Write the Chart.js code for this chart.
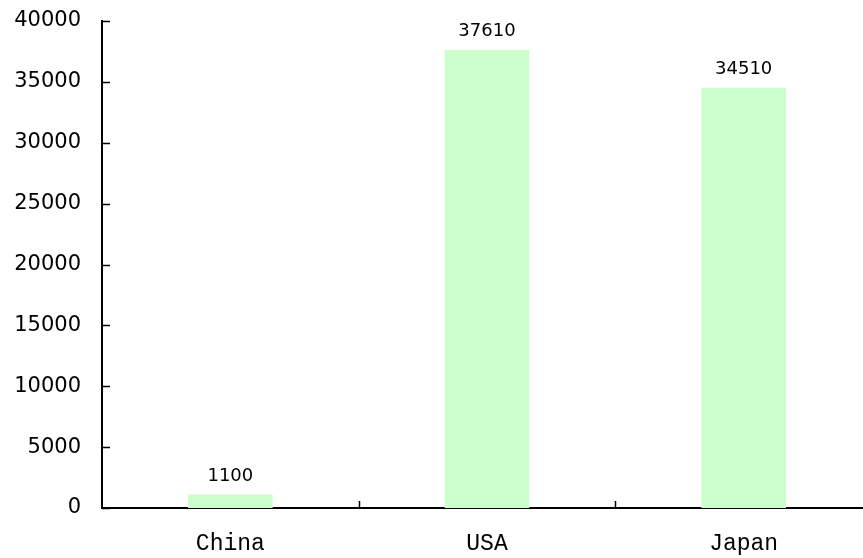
<!DOCTYPE html>
<html>
<head>
<meta charset="utf-8">
<script src="https://cdn.jsdelivr.net/npm/chart.js@4/dist/chart.umd.min.js"></script>
<style>
html,body{margin:0;padding:0;background:#fff;overflow:hidden;}
#wrap{width:872px;height:558px;position:relative;}
</style>
</head>
<body>
<div id="wrap"><canvas id="c"></canvas></div>
<script>
const categories = ["China", "USA", "Japan"];
const values = [1100, 37610, 34510];
const yMin = 0, yMax = 40000, yStep = 5000;

const tickMarks = {
  id: 'tickMarks',
  afterDraw(chart) {
    const ctx = chart.ctx, a = chart.chartArea;
    const xs = chart.scales.x, ys = chart.scales.y;
    ctx.save();
    ctx.strokeStyle = '#000';
    ctx.lineWidth = 1.5;
    ys.ticks.forEach(t => {
      const y = Math.round(ys.getPixelForValue(t.value)) + 0.5;
      ctx.beginPath(); ctx.moveTo(a.left, y); ctx.lineTo(a.left + 8, y); ctx.stroke();
    });
    for (let i = 1; i <= categories.length; i++) {
      const x = Math.round((xs.getPixelForValue(i - 1) + xs.getPixelForValue(i)) / 2) + 0.5;
      ctx.beginPath(); ctx.moveTo(x, a.bottom); ctx.lineTo(x, a.bottom - 7); ctx.stroke();
    }
    ctx.fillStyle = '#000';
    ctx.font = '18px "DejaVu Sans"';
    ctx.textAlign = 'center';
    ctx.textBaseline = 'alphabetic';
    const meta = chart.getDatasetMeta(0);
    meta.data.forEach((bar, i) => {
      ctx.fillText(String(values[i]), bar.x, bar.y - 14);
    });
    ctx.restore();
  }
};

new Chart(document.getElementById('c'), {
  type: 'bar',
  data: {
    labels: categories,
    datasets: [{
      data: values,
      backgroundColor: '#ccffcc',
      borderWidth: 0,
      barPercentage: 0.33,
      categoryPercentage: 1.0
    }]
  },
  options: {
    responsive: true,
    maintainAspectRatio: false,
    animation: false,
    layout: { padding: { top: 21, right: 0, left: 0, bottom: 0 } },
    plugins: { legend: { display: false }, tooltip: { enabled: false } },
    scales: {
      x: {
        grid: { display: false, drawTicks: false },
        border: { display: true, color: '#000', width: 2 },
        ticks: { color: '#000', font: { family: '"Liberation Mono"', size: 23 }, padding: 22 },
        afterFit(s) { s.height = 50; s.paddingLeft = 0; s.paddingRight = 0; }
      },
      y: {
        min: yMin, max: yMax,
        grid: { display: false, drawTicks: false },
        border: { display: true, color: '#000', width: 2 },
        ticks: { stepSize: yStep, color: '#000', font: { family: '"DejaVu Sans"', size: 21 }, padding: 21,
                 callback: v => String(v) },
        afterFit(s) { s.width = 102; s.paddingTop = 0; s.paddingBottom = 0; }
      }
    }
  },
  plugins: [tickMarks]
});
</script>
</body>
</html>
